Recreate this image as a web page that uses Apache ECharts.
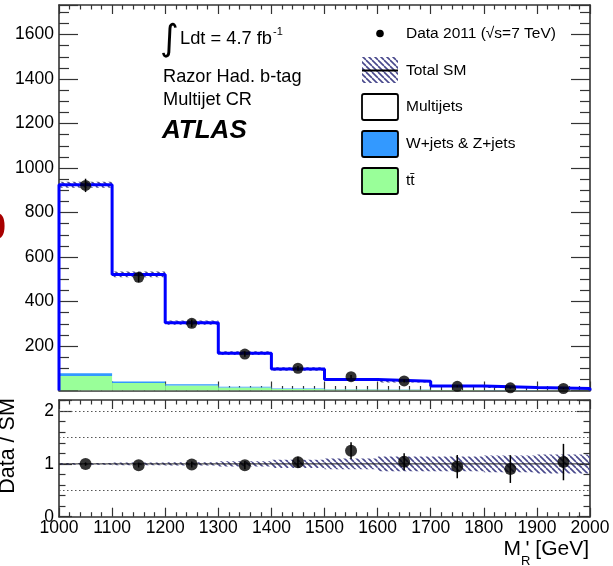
<!DOCTYPE html>
<html>
<head>
<meta charset="utf-8">
<script src="https://cdn.jsdelivr.net/npm/echarts@6/dist/echarts.min.js"></script>
<style>
  html, body { margin: 0; padding: 0; background: #fff; }
  #chart { width: 613px; height: 566px; }
</style>
</head>
<body>
<div id="chart"></div>
<script>
// M_R' bins (GeV)
const binEdges = [1000, 1100, 1200, 1300, 1400, 1500, 1600, 1700, 1800, 1900, 2000];
// Stacked backgrounds (events per bin)
const ttbar   = [65, 34, 23, 14, 7, 4, 3, 2, 1.5, 1];
const wzJets  = [12, 6, 5, 2.5, 2, 1.5, 1, 0.8, 0.5, 0.5];
const totalSM = [925, 522, 305, 168, 97, 49.6, 41.3, 20, 13.3, 8.7];
// Relative systematic uncertainty on the total SM prediction
const smRelErr = [0.015, 0.025, 0.03, 0.05, 0.08, 0.10, 0.14, 0.14, 0.16, 0.18];
// Observed data and its statistical error
const dataCounts = [922, 509, 302, 164, 100, 62, 43, 19, 12, 9];
const dataErr    = [30, 22.6, 17.4, 12.8, 10, 7.9, 6.6, 4.4, 3.5, 3];
// Reference lines in the ratio panel
const ratioDotted = [0.5, 1.5, 2];

const FONT = '"Liberation Sans", Arial, Helvetica, sans-serif';

// diagonal hatch used for the SM uncertainty
function makeHatch() {
  const s = 6;
  const c = document.createElement('canvas');
  c.width = s; c.height = s;
  const g = c.getContext('2d');
  g.strokeStyle = '#48488c';
  g.lineWidth = 1.6;
  for (const k of [-s, 0, s]) {
    g.beginPath();
    g.moveTo(k, 0);
    g.lineTo(k + s, s);
    g.stroke();
  }
  return { image: c, repeat: 'repeat' };
}
const hatch = makeHatch();

const centers = binEdges.slice(0, -1).map((e, i) => (e + binEdges[i + 1]) / 2);
const lo = i => binEdges[i];
const hi = i => binEdges[i + 1];

const ttRects = ttbar.map((v, i) => [lo(i), hi(i), 0, v]);
const wzRects = wzJets.map((v, i) => [lo(i), hi(i), ttbar[i], ttbar[i] + v]);
const bandTop = totalSM.map((v, i) => [lo(i), hi(i), v * (1 - smRelErr[i]), v * (1 + smRelErr[i])]);
const bandRatio = smRelErr.map((e, i) => [lo(i), hi(i), 1 - e, 1 + e]);

const stepLine = [[binEdges[0], 0]];
totalSM.forEach((v, i) => { stepLine.push([lo(i), v]); stepLine.push([hi(i), v]); });
stepLine.push([binEdges[binEdges.length - 1], 0]);

const dataPts = dataCounts.map((v, i) => [centers[i], v]);
const dataBars = dataCounts.map((v, i) => [centers[i], v - dataErr[i], v + dataErr[i]]);
const ratio = dataCounts.map((v, i) => v / totalSM[i]);
const ratioPts = ratio.map((r, i) => [centers[i], r]);
const ratioBars = ratio.map((r, i) => [centers[i], r - dataErr[i] / totalSM[i], r + dataErr[i] / totalSM[i]]);

function rectRenderer(style) {
  return function (params, api) {
    const a = api.coord([api.value(0), api.value(3)]);
    const b = api.coord([api.value(1), api.value(2)]);
    return { type: 'rect', shape: { x: a[0], y: a[1], width: b[0] - a[0], height: b[1] - a[1] }, style: style };
  };
}
function errRenderer(params, api) {
  const a = api.coord([api.value(0), api.value(1)]);
  const b = api.coord([api.value(0), api.value(2)]);
  return { type: 'line', shape: { x1: a[0], y1: a[1], x2: b[0], y2: b[1] }, style: { stroke: '#000', lineWidth: 1.5 } };
}

const axisLine = { show: true, onZero: false, lineStyle: { color: '#333', width: 1.6 } };
const plain = v => String(v);

function xAxisCfg(gridIndex, position, showLabels) {
  return {
    type: 'value', gridIndex, position, min: 1000, max: 2000, interval: 100,
    axisLine,
    axisTick: { show: true, inside: true, length: 9, lineStyle: { color: '#333', width: 1.2 } },
    minorTick: { show: true, splitNumber: 5, length: 4.5, lineStyle: { color: '#333', width: 1.2 } },
    splitLine: { show: false }, minorSplitLine: { show: false },
    axisLabel: { show: showLabels, color: '#000', fontSize: 17.5, fontFamily: FONT, margin: 2, formatter: plain }
  };
}
function yAxisCfg(gridIndex, position, max, interval, minorSplit, majLen, minLen, showLabels, showMin) {
  return {
    type: 'value', gridIndex, position, min: 0, max, interval,
    axisLine,
    axisTick: { show: true, inside: true, length: majLen, lineStyle: { color: '#333', width: 1.2 } },
    minorTick: { show: true, splitNumber: minorSplit, length: minLen, lineStyle: { color: '#333', width: 1.2 } },
    splitLine: { show: false }, minorSplitLine: { show: false },
    axisLabel: { show: showLabels, color: '#000', fontSize: 17.5, fontFamily: FONT, margin: 5,
                 showMinLabel: showMin, showMaxLabel: false, formatter: plain }
  };
}

const chart = echarts.init(document.getElementById('chart'), null, { renderer: 'canvas' });

const txt = (x, y, text, extra) => ({
  type: 'text', x, y, z: 100,
  style: Object.assign({ text, fill: '#000', fontSize: 15.5, fontFamily: FONT, textVerticalAlign: 'middle' }, extra || {})
});
const box = (y, fill) => ({
  type: 'rect', z: 100,
  shape: { x: 362, y, width: 36, height: 26, r: 2 },
  style: { fill, stroke: '#000', lineWidth: 1.8 }
});

chart.setOption({
  animation: false,
  backgroundColor: '#fff',
  textStyle: { fontFamily: FONT },
  grid: [
    { left: 59, right: 23, top: 5, bottom: 175.5 },
    { left: 59, right: 23, top: 400, bottom: 49.3 }
  ],
  xAxis: [
    xAxisCfg(0, 'bottom', false),
    xAxisCfg(0, 'top', false),
    xAxisCfg(1, 'bottom', true),
    xAxisCfg(1, 'top', false)
  ],
  yAxis: [
    yAxisCfg(0, 'left', 1733, 200, 4, 19, 10, true, false),
    yAxisCfg(0, 'right', 1733, 200, 4, 19, 10, false, false),
    yAxisCfg(1, 'left', 2.21, 1, 5, 13, 6.5, true, true),
    yAxisCfg(1, 'right', 2.21, 1, 5, 13, 6.5, false, true)
  ],
  series: [
    { type: 'custom', name: 'ttbar', xAxisIndex: 0, yAxisIndex: 0, data: ttRects, clip: true,
      encode: { x: [0, 1], y: [2, 3] }, renderItem: rectRenderer({ fill: '#99ff99' }) },
    { type: 'custom', name: 'W+jets & Z+jets', xAxisIndex: 0, yAxisIndex: 0, data: wzRects, clip: true,
      encode: { x: [0, 1], y: [2, 3] }, renderItem: rectRenderer({ fill: '#3399ff' }) },
    { type: 'custom', name: 'Total SM band', xAxisIndex: 0, yAxisIndex: 0, data: bandTop, clip: true,
      encode: { x: [0, 1], y: [2, 3] }, renderItem: rectRenderer({ fill: hatch }) },
    { type: 'line', name: 'Total SM', xAxisIndex: 0, yAxisIndex: 0, data: stepLine, clip: false,
      symbol: 'none', lineStyle: { color: '#0000ff', width: 3 }, z: 3 },
    { type: 'custom', name: 'data errors', xAxisIndex: 0, yAxisIndex: 0, data: dataBars,
      encode: { x: 0, y: [1, 2] }, renderItem: errRenderer, z: 4 },
    { type: 'scatter', name: 'Data 2011', xAxisIndex: 0, yAxisIndex: 0, data: dataPts,
      symbol: 'circle', symbolSize: 11, itemStyle: { color: '#000' }, z: 5 },

    { type: 'custom', name: 'ratio band', xAxisIndex: 2, yAxisIndex: 2, data: bandRatio, clip: true,
      encode: { x: [0, 1], y: [2, 3] }, renderItem: rectRenderer({ fill: hatch }) },
    { type: 'line', name: 'ratio refs', xAxisIndex: 2, yAxisIndex: 2, data: [[1000, 1], [2000, 1]],
      symbol: 'none', lineStyle: { color: '#222', width: 1 }, z: 3,
      markLine: {
        silent: true, symbol: 'none', label: { show: false },
        lineStyle: { color: '#555', type: [1.5, 2.5], width: 1.2 },
        data: ratioDotted.map(v => ({ yAxis: v }))
      } },
    { type: 'custom', name: 'ratio errors', xAxisIndex: 2, yAxisIndex: 2, data: ratioBars,
      encode: { x: 0, y: [1, 2] }, renderItem: errRenderer, z: 4 },
    { type: 'scatter', name: 'ratio', xAxisIndex: 2, yAxisIndex: 2, data: ratioPts,
      symbol: 'circle', symbolSize: 12, itemStyle: { color: '#000' }, z: 5 }
  ],
  graphic: [
    // labels beside the main panel
    txt(6, 229, '0', { fill: '#a80000', fontSize: 36, fontWeight: 'bold', textAlign: 'right' }),
    { type: 'text', z: 100, x: 8, y: 446, rotation: Math.PI / 2,
      style: { text: 'Data / SM', fill: '#000', fontSize: 21.5, fontFamily: FONT, textAlign: 'center', textVerticalAlign: 'middle' } },
    // x-axis title
    txt(521, 549, 'M', { fontSize: 21, textAlign: 'right' }),
    txt(521, 561, 'R', { fontSize: 13 }),
    txt(589, 549, "' [GeV]", { fontSize: 21, textAlign: 'right' }),

    // luminosity / selection text
    txt(160, 41, '\u222B', { fontSize: 36, fontFamily: '"DejaVu Sans", sans-serif' }),
    txt(180, 39, 'Ldt = 4.7 fb', { fontSize: 18.3 }),
    txt(273, 32, '-1', { fontSize: 11 }),
    txt(163, 77, 'Razor Had. b-tag', { fontSize: 18.2 }),
    txt(163, 100, 'Multijet CR', { fontSize: 18.2 }),
    txt(162, 131, 'ATLAS', { fontSize: 26, fontWeight: 'bold', fontStyle: 'italic' }),

    // legend
    { type: 'circle', z: 100, shape: { cx: 380, cy: 33.5, r: 3.8 }, style: { fill: '#000' } },
    txt(406, 33.5, 'Data 2011 (\u221As=7 TeV)'),
    { type: 'rect', z: 100, shape: { x: 362, y: 57, width: 36, height: 26 }, style: { fill: hatch } },
    { type: 'line', z: 101, shape: { x1: 362, y1: 70.5, x2: 398, y2: 70.5 }, style: { stroke: '#000', lineWidth: 2 } },
    txt(406, 70.5, 'Total SM'),
    box(94, '#ffffff'),
    txt(406, 107, 'Multijets'),
    box(131, '#3399ff'),
    txt(406, 144, 'W+jets & Z+jets'),
    box(168, '#99ff99'),
    txt(406, 181, 'tt\u0304')
  ]
});
</script>
</body>
</html>
